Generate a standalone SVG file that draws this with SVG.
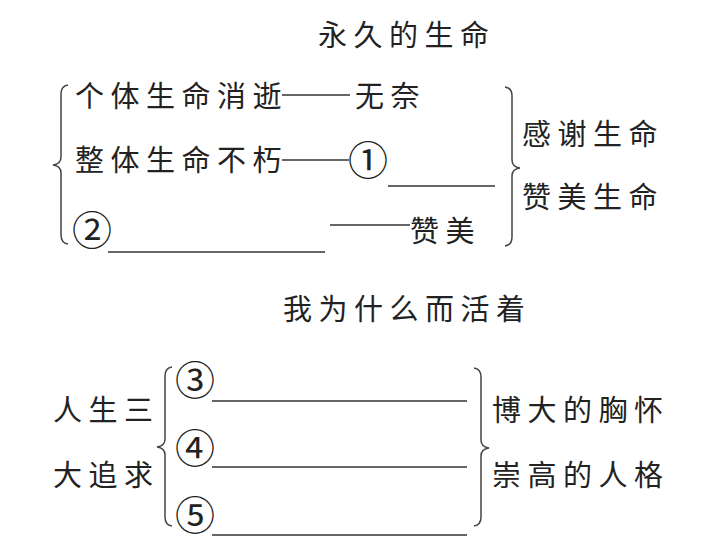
<svg xmlns="http://www.w3.org/2000/svg" width="725" height="551" viewBox="0 0 725 551">
<style>
.t{font-family:"Noto Sans CJK SC","Noto Sans CJK JP",sans-serif;font-size:29px;letter-spacing:6.5px;fill:#222}
.n{font-family:"Noto Sans CJK SC","DejaVu Sans",sans-serif;font-size:40px;fill:#222}
.l{stroke:#333;stroke-width:1.5;fill:none}
.b{stroke:#444;stroke-width:1.5;fill:none}
</style>
<rect width="725" height="551" fill="#fff"/>
<g id="title1"><text class="t" x="318" y="46">永久的生命</text></g>
<g id="row1">
<text class="t" x="75" y="107">个体生命消逝</text>
<text class="t" x="355" y="107">无奈</text>
</g>
<g id="row2">
<text class="t" x="75" y="171">整体生命不朽</text>
<text class="n" x="348" y="175">①</text>
</g>
<g id="row3">
<text class="n" x="72" y="245">②</text>
<text class="t" x="410" y="242">赞美</text>
</g>
<g id="right1">
<text class="t" x="522" y="145">感谢生命</text>
<text class="t" x="522" y="208">赞美生命</text>
</g>
<g id="title2"><text class="t" x="283" y="320">我为什么而活着</text></g>
<g id="left2">
<text class="t" x="53" y="421">人生三</text>
<text class="t" x="53" y="486">大追求</text>
</g>
<g id="items2">
<text class="n" x="175" y="395">③</text>
<text class="n" x="175" y="463">④</text>
<text class="n" x="175" y="530">⑤</text>
</g>
<g id="right2">
<text class="t" x="492" y="421">博大的胸怀</text>
<text class="t" x="492" y="486">崇高的人格</text>
</g>
<g id="connectors">
<line class="l" x1="282" y1="95" x2="350" y2="95"/>
<line class="l" x1="282" y1="160" x2="349" y2="160"/>
<line class="l" x1="388" y1="186" x2="495" y2="186"/>
<line class="l" x1="330" y1="225" x2="410" y2="225"/>
<line class="l" x1="108" y1="252" x2="325" y2="252"/>
<line class="l" x1="212" y1="401" x2="467" y2="401"/>
<line class="l" x1="212" y1="467" x2="467" y2="467"/>
<line class="l" x1="212" y1="535" x2="467" y2="535"/>
<path class="b" d="M68,85 Q61,86 61,94 L61,157 Q61,164 53,165 Q61,166 61,173 L61,235 Q61,243 68,244"/>
<path class="b" d="M505,87 Q512,88 512,96 L512,160 Q512,167 520,168 Q512,169 512,176 L512,237 Q512,245 505,246"/>
<path class="b" d="M172,367 Q165,368 165,376 L165,439 Q165,446 157,447 Q165,448 165,455 L165,517 Q165,525 172,526"/>
<path class="b" d="M474,368 Q481,369 481,377 L481,440 Q481,447 489,448 Q481,449 481,456 L481,517 Q481,525 474,526"/>
</g>
</svg>
